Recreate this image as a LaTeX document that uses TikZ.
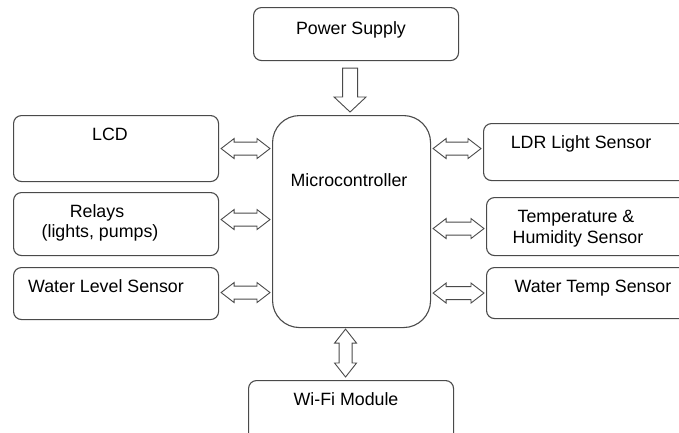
\documentclass[tikz,border=0pt]{standalone}
\usepackage{fontspec}
\setmainfont{Liberation Sans}
\usetikzlibrary{calc}
\definecolor{linec}{HTML}{4A4A4A}
\newcommand\dblh[4]{%
  \draw[barrow] let \p1=(#1), \p2=(#2), \p3=(#3), \n1={\y3+(#4)} in
   (\x1+2pt,\n1) -- (\x1+15pt,\n1+10pt) -- (\x1+15pt,\n1+6.5pt) -- (\x2-15pt,\n1+6.5pt) -- (\x2-15pt,\n1+10pt) -- (\x2-2pt,\n1)
   -- (\x2-15pt,\n1-10pt) -- (\x2-15pt,\n1-6.5pt) -- (\x1+15pt,\n1-6.5pt) -- (\x1+15pt,\n1-10pt) -- cycle;}
\begin{document}
\begin{tikzpicture}[x=1pt,y=-1pt,
  box/.style={draw=linec, line width=1.1pt, rounded corners=8pt, anchor=north west, inner sep=0pt},
  lbl/.style={font=\fontsize{17.8}{21}\selectfont, text=black, inner sep=0pt, anchor=base},
  barrow/.style={draw=linec, line width=0.9pt, fill=white, line join=miter}]
\useasboundingbox (0,0) rectangle (679,432);
\clip (0,0) rectangle (679,432);
% boxes
\node[box, minimum width=205pt, minimum height=53pt] (ps) at (253,7) {};
\node[box, minimum width=158pt, minimum height=212pt, rounded corners=27pt] (mc) at (272,115) {};
\node[box, minimum width=205pt, minimum height=66pt] (lcd) at (13,115) {};
\node[box, minimum width=205pt, minimum height=63pt] (rel) at (13,192) {};
\node[box, minimum width=205pt, minimum height=52pt] (wls) at (13,267) {};
\node[box, minimum width=210pt, minimum height=57pt] (ldr) at (483,123) {};
\node[box, minimum width=210pt, minimum height=58pt] (ths) at (486,197) {};
\node[box, minimum width=210pt, minimum height=51pt] (wts) at (486,267) {};
\node[box, minimum width=205pt, minimum height=70pt] (wifi) at (248,380) {};
% labels
\node[lbl] at (351,34) {Power Supply};
\node[lbl] at (349,186) {Microcontroller};
\node[lbl] at (110,140) {LCD};
\node[lbl] at (97,217) {Relays};
\node[lbl] at (100,237) {(lights, pumps)};
\node[lbl] at (106,292) {Water Level Sensor};
\node[lbl] at (581,148) {LDR Light Sensor};
\node[lbl] at (576,222) {Temperature \&};
\node[lbl] at (578,243) {Humidity Sensor};
\node[lbl] at (593,292) {Water Temp Sensor};
\node[lbl] at (346,405) {Wi-Fi Module};
% power arrow
\draw[barrow] let \p1=(ps.south), \p2=(mc.north), \n1={\x1-6pt} in
  (\n1-7.5pt,\y1-7pt) -- (\n1+7.5pt,\y1-7pt) -- (\n1+7.5pt,\y2+18pt) -- (\n1+16pt,\y2+18pt)
  -- (\n1,\y2+3pt) -- (\n1-16pt,\y2+18pt) -- (\n1-7.5pt,\y2+18pt) -- cycle;
% wifi double arrow
\draw[barrow] let \p1=(mc.south), \p2=(wifi.north), \n1={\x1-6pt} in
  (\n1,\y1-1pt) -- (\n1+11pt,\y1-15pt) -- (\n1+6.5pt,\y1-15pt) -- (\n1+6.5pt,\y2+17pt) -- (\n1+11pt,\y2+17pt) -- (\n1,\y2+3pt)
  -- (\n1-11pt,\y2+17pt) -- (\n1-6.5pt,\y2+17pt) -- (\n1-6.5pt,\y1-15pt) -- (\n1-11pt,\y1-15pt) -- cycle;
% side arrows
\dblh{lcd.east}{mc.west}{lcd.east}{0pt}
\dblh{rel.east}{mc.west}{rel.east}{4.5pt}
\dblh{wls.east}{mc.west}{wls.east}{1pt}
\dblh{mc.east}{ldr.west}{ldr.west}{3.5pt}
\dblh{mc.east}{ths.west}{ths.west}{-2pt}
\dblh{mc.east}{wts.west}{wts.west}{0pt}
\end{tikzpicture}
\end{document}
